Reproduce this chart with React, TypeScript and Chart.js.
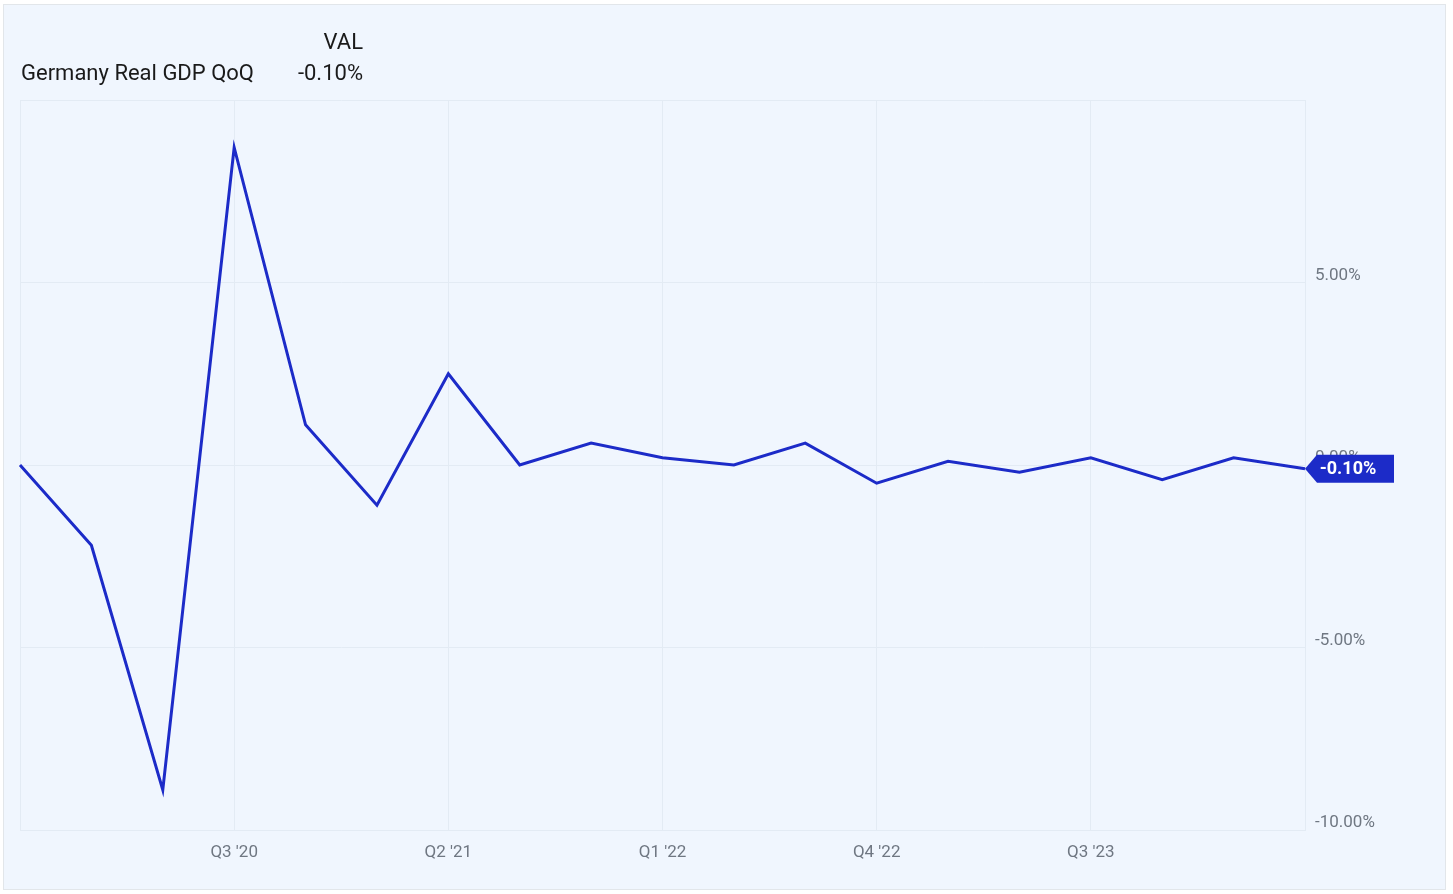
import React, { useEffect, useRef } from "react";
import { Chart, registerables } from "chart.js";

Chart.register(...registerables);

const quarters = [
  "Q4 '19", "Q1 '20", "Q2 '20", "Q3 '20", "Q4 '20", "Q1 '21", "Q2 '21", "Q3 '21", "Q4 '21",
  "Q1 '22", "Q2 '22", "Q3 '22", "Q4 '22", "Q1 '23", "Q2 '23", "Q3 '23", "Q4 '23", "Q1 '24", "Q2 '24",
];
const gdpQoQ = [
  0.0, -2.2, -8.9, 8.7, 1.1, -1.1, 2.5, 0.0, 0.6,
  0.2, 0.0, 0.6, -0.5, 0.1, -0.2, 0.2, -0.4, 0.2, -0.1,
];
const seriesName = "Germany Real GDP QoQ";
const yTicks = [-10, -5, 0, 5, 10];

const LINE = "#1c2bc8";
const GRID = "#e3ebf4";
const FONT = "Roboto, 'Noto Sans', sans-serif";

const fmt = (v: number) => v.toFixed(2) + "%";

const badgePlugin = {
  id: "lastBadge",
  afterDraw(chart: any) {
    const ctx = chart.ctx;
    const meta = chart.getDatasetMeta(0);
    const pt = meta.data[meta.data.length - 1];
    if (!pt) return;
    const x = pt.x;
    const y = pt.y;
    const h = 28;
    const arrow = 12;
    const w = 77;
    ctx.save();
    ctx.fillStyle = LINE;
    ctx.beginPath();
    ctx.moveTo(x, y);
    ctx.lineTo(x + arrow, y - h / 2);
    ctx.lineTo(x + arrow + w, y - h / 2);
    ctx.lineTo(x + arrow + w, y + h / 2);
    ctx.lineTo(x + arrow, y + h / 2);
    ctx.closePath();
    ctx.fill();
    ctx.fillStyle = "#ffffff";
    ctx.font = "bold 18px " + FONT;
    ctx.textAlign = "center";
    ctx.textBaseline = "middle";
    ctx.fillText(fmt(gdpQoQ[gdpQoQ.length - 1]), x + 43, y + 1);
    ctx.restore();
  },
};

export default function App() {
  const ref = useRef<HTMLCanvasElement | null>(null);

  useEffect(() => {
    document.body.style.margin = "0";
    if (!ref.current) return;
    const chart = new Chart(ref.current, {
      type: "line",
      data: {
        labels: quarters,
        datasets: [
          {
            label: seriesName,
            data: gdpQoQ,
            borderColor: LINE,
            borderWidth: 3,
            pointRadius: 0,
            tension: 0,
            fill: false,
          },
        ],
      },
      options: {
        animation: false,
        responsive: false,
        maintainAspectRatio: false,
        layout: { padding: { left: 20, top: 100, right: 0, bottom: 0 } },
        plugins: {
          legend: { display: false },
          tooltip: { enabled: false },
        },
        scales: {
          x: {
            offset: false,
            grid: {
              drawTicks: false,
              color: (c: any) => (c.index % 3 === 0 ? GRID : "rgba(0,0,0,0)"),
              lineWidth: 1,
            },
            border: { display: true, color: GRID },
            ticks: {
              autoSkip: false,
              maxRotation: 0,
              padding: 13,
              color: "#6f7782",
              font: { family: FONT, size: 17 },
              callback: (_v: any, i: number) =>
                i % 3 === 0 && i !== 0 && i !== quarters.length - 1 ? quarters[i] : "",
            },
            afterFit: (s: any) => {
              s.height = 64;
            },
          },
          y: {
            position: "right",
            min: yTicks[0],
            max: yTicks[yTicks.length - 1],
            afterBuildTicks: (s: any) => {
              s.ticks = yTicks.map((v) => ({ value: v }));
            },
            grid: { drawTicks: false, color: GRID, lineWidth: 1 },
            border: { display: true, color: GRID },
            ticks: {
              padding: 10,
              labelOffset: -7,
              color: "#6f7782",
              font: { family: FONT, size: 17 },
              callback: (v: any) => (v === yTicks[yTicks.length - 1] ? "" : fmt(Number(v))),
            },
            afterFit: (s: any) => {
              s.width = 148;
            },
          },
        },
      },
      plugins: [badgePlugin],
    });
    return () => chart.destroy();
  }, []);

  return (
    <div style={{ position: "relative", width: 1453, height: 894, background: "#ffffff", overflow: "hidden" }}>
      <div
        style={{
          position: "absolute",
          left: 3,
          top: 4,
          width: 1441,
          height: 884,
          background: "#f0f6fe",
          border: "1px solid #e2e6ea",
        }}
      />
      <canvas ref={ref} width={1453} height={894} style={{ position: "absolute", left: 0, top: 0 }} />
      <div
        style={{
          position: "absolute",
          left: 21,
          top: 58,
          fontFamily: FONT,
          fontSize: 22,
          color: "#1a1a1a",
          lineHeight: "30px",
          whiteSpace: "nowrap",
        }}
      >
        {seriesName}
      </div>
      <div
        style={{
          position: "absolute",
          right: 1453 - 363,
          top: 27,
          fontFamily: FONT,
          fontSize: 22,
          color: "#1a1a1a",
          lineHeight: "30px",
          textAlign: "right",
          whiteSpace: "nowrap",
        }}
      >
        VAL
      </div>
      <div
        style={{
          position: "absolute",
          right: 1453 - 363,
          top: 58,
          fontFamily: FONT,
          fontSize: 22,
          color: "#1a1a1a",
          lineHeight: "30px",
          textAlign: "right",
          whiteSpace: "nowrap",
        }}
      >
        {fmt(gdpQoQ[gdpQoQ.length - 1])}
      </div>
    </div>
  );
}
